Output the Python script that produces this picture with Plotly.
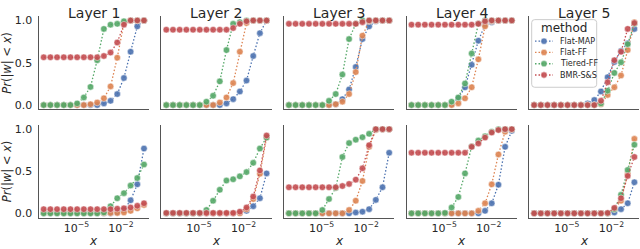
import plotly.graph_objects as go

# ---------------- data ----------------
LAYERS = ["Layer 1", "Layer 2", "Layer 3", "Layer 4", "Layer 5"]
METHODS = ["Flat-MAP", "Flat-FF", "Tiered-FF", "BMR-S&S"]
COLORS = ["#4C72B0", "#DD8452", "#55A868", "#C44E52"]

# log10 of the thresholds x
X_EXP = [-7.2, -6.75, -6.3, -5.85, -5.4, -4.95, -4.5, -4.05,
         -3.6, -3.15, -2.7, -2.25, -1.8, -1.35, -0.9, -0.45]

X_TICKS = [1e-5, 1e-2]
X_TICK_TEXT = ["10<sup>\u22125</sup>", "10<sup>\u22122</sup>"]
Y_TICKS = [0.0, 0.5, 1.0]
Y_TICK_TEXT = ["0.0", "0.5", "1.0"]

# top row: Pr(|w| < x) per layer
FLAT_MAP_TOP = [
    [0, 0, 0, 0, 0, 0, 0, 0, 0, 0.02, 0.05, 0.13, 0.32, 0.63, 0.93, 1.0],
    [0, 0, 0, 0, 0, 0, 0, 0, 0, 0.02, 0.07, 0.16, 0.29, 0.58, 0.85, 1.0],
    [0, 0, 0, 0, 0, 0, 0, 0.01, 0.07, 0.185, 0.45, 0.78, 0.93, 0.99, 1.0, 1.0],
    [0, 0, 0, 0, 0, 0, 0.01, 0.08, 0.21, 0.475, 0.76, 0.95, 0.98, 1.0, 1.0, 1.0],
    [0, 0, 0, 0, 0, 0, 0, 0, 0.02, 0.06, 0.16, 0.33, 0.51, 0.64, 0.73, 0.90],
]
FLAT_FF_TOP = [
    [0, 0, 0, 0, 0, 0, 0, 0.01, 0.03, 0.08, 0.22, 0.56, 0.97, 1.0, 1.0, 1.0],
    [0, 0, 0, 0, 0, 0, 0, 0, 0.03, 0.09, 0.26, 0.63, 0.97, 1.0, 1.0, 1.0],
    [0, 0, 0, 0, 0, 0, 0, 0.01, 0.04, 0.13, 0.39, 0.82, 0.99, 1.0, 1.0, 1.0],
    [0, 0, 0, 0, 0, 0, 0, 0.02, 0.08, 0.21, 0.54, 0.93, 0.99, 1.0, 1.0, 1.0],
    [0, 0, 0, 0, 0, 0, 0, 0, 0, 0, 0.01, 0.12, 0.21, 0.35, 0.65, 0.98],
]
TIERED_FF_TOP = [
    [0, 0, 0, 0, 0, 0.02, 0.09, 0.215, 0.53, 0.90, 0.95, 0.96, 0.99, 1.0, 1.0, 1.0],
    [0, 0, 0, 0, 0, 0, 0.04, 0.11, 0.28, 0.65, 0.96, 0.98, 1.0, 1.0, 1.0, 1.0],
    [0, 0, 0, 0, 0, 0, 0.05, 0.13, 0.36, 0.78, 0.96, 1.0, 1.0, 1.0, 1.0, 1.0],
    [0, 0, 0, 0, 0, 0, 0.04, 0.09, 0.255, 0.61, 0.96, 1.0, 1.0, 1.0, 1.0, 1.0],
    [0, 0, 0, 0, 0, 0, 0, 0, 0, 0, 0.02, 0.17, 0.38, 0.505, 0.72, 0.96],
]
BMR_TOP = [
    [0.565, 0.565, 0.565, 0.565, 0.565, 0.565, 0.565, 0.565, 0.565, 0.58, 0.62, 0.74, 0.95, 1.0, 1.0, 1.0],
    [0.89, 0.89, 0.89, 0.89, 0.89, 0.89, 0.89, 0.89, 0.89, 0.89, 0.91, 0.96, 0.99, 1.0, 1.0, 1.0],
    [0.96, 0.96, 0.96, 0.96, 0.96, 0.96, 0.96, 0.96, 0.96, 0.96, 0.96, 0.98, 1.0, 1.0, 1.0, 1.0],
    [0.95, 0.95, 0.95, 0.95, 0.95, 0.95, 0.95, 0.95, 0.95, 0.95, 0.96, 0.99, 1.0, 1.0, 1.0, 1.0],
    [0, 0, 0, 0, 0, 0, 0, 0, 0, 0, 0.05, 0.27, 0.53, 0.63, 0.90, 0.97],
]

# bottom row
FLAT_MAP_BOT = [
    [0, 0, 0, 0, 0, 0, 0, 0, 0, 0, 0, 0.01, 0.04, 0.155, 0.345, 0.77],
    [0, 0, 0, 0, 0, 0, 0, 0, 0, 0, 0, 0.01, 0.03, 0.085, 0.18, 0.475],
    [0, 0, 0, 0, 0, 0, 0, 0, 0, 0, 0.01, 0.02, 0.05, 0.16, 0.31, 0.72],
    [0, 0, 0, 0, 0, 0, 0, 0, 0, 0, 0, 0.03, 0.12, 0.34, 0.79, 0.98],
    [0, 0, 0, 0, 0, 0, 0, 0, 0, 0, 0, 0, 0.01, 0.05, 0.12, 0.37],
]
FLAT_FF_BOT = [
    [0.005, 0.005, 0.005, 0.005, 0.005, 0.005, 0.005, 0.005, 0.005, 0.005, 0.005, 0.005, 0.01, 0.03, 0.06, 0.10],
    [0, 0, 0, 0, 0, 0, 0, 0, 0, 0, 0, 0, 0.05, 0.17, 0.47, 0.90],
    [0, 0, 0, 0, 0, 0, 0, 0, 0, 0.04, 0.15, 0.385, 0.79, 0.99, 1.0, 1.0],
    [0, 0, 0, 0, 0, 0, 0, 0, 0, 0, 0.03, 0.12, 0.345, 0.70, 0.97, 1.0],
    [0, 0, 0, 0, 0, 0, 0, 0, 0, 0, 0, 0, 0.05, 0.15, 0.47, 0.885],
]
TIERED_FF_BOT = [
    [0, 0, 0, 0, 0, 0, 0, 0, 0, 0.01, 0.085, 0.18, 0.24, 0.33, 0.42, 0.58],
    [0, 0, 0, 0, 0, 0, 0.04, 0.15, 0.28, 0.39, 0.405, 0.44, 0.49, 0.60, 0.77, 0.90],
    [0, 0, 0, 0, 0, 0.04, 0.17, 0.30, 0.67, 0.835, 0.875, 0.905, 0.945, 1.0, 1.0, 1.0],
    [0, 0, 0, 0, 0, 0.005, 0.07, 0.195, 0.475, 0.795, 0.865, 0.915, 0.97, 1.0, 1.0, 1.0],
    [0, 0, 0, 0, 0, 0, 0, 0, 0, 0, 0, 0, 0.05, 0.22, 0.515, 0.815],
]
BMR_BOT = [
    [0.05, 0.05, 0.05, 0.05, 0.05, 0.05, 0.05, 0.05, 0.05, 0.05, 0.05, 0.055, 0.06, 0.07, 0.09, 0.12],
    [0.005, 0.005, 0.005, 0.005, 0.005, 0.005, 0.005, 0.005, 0.005, 0.005, 0.005, 0.02, 0.07, 0.20, 0.51, 0.925],
    [0.31, 0.31, 0.31, 0.31, 0.31, 0.31, 0.31, 0.31, 0.325, 0.35, 0.40, 0.535, 0.81, 1.0, 1.0, 1.0],
    [0.72, 0.72, 0.72, 0.72, 0.72, 0.72, 0.72, 0.72, 0.72, 0.79, 0.83, 0.90, 0.96, 0.99, 1.0, 1.0],
    [0, 0, 0, 0, 0, 0, 0, 0, 0, 0, 0, 0.005, 0.065, 0.18, 0.445, 0.67],
]

ROWS = [
    [FLAT_MAP_TOP, FLAT_FF_TOP, TIERED_FF_TOP, BMR_TOP],
    [FLAT_MAP_BOT, FLAT_FF_BOT, TIERED_FF_BOT, BMR_BOT],
]

# ---------------- layout geometry (pixels) ----------------
W, H = 640, 249
PANEL_LEFT, PANEL_PITCH, PANEL_W = 38.7, 122.6, 110.3
ROW_TOP = [14.5, 125.5]
ROW_BOT = [109.5, 220.0]
FONT = "DejaVu Sans"
TXT = "#262626"
AXCOL = "#555555"
DOT = "1.5px,2px"


def fx(p):
    return p / W


def fy(p):
    return 1 - p / H


x_vals = [10 ** e for e in X_EXP]
xr = [X_EXP[0] - 0.05 * (X_EXP[-1] - X_EXP[0]), X_EXP[-1] + 0.05 * (X_EXP[-1] - X_EXP[0])]

fig = go.Figure()
layout = dict(
    width=W, height=H, margin=dict(l=0, r=0, t=0, b=0),
    paper_bgcolor="white", plot_bgcolor="white", showlegend=False,
    font=dict(family=FONT, color=TXT, size=11),
)
annotations = []
shapes = []

for r in range(2):
    for c in range(5):
        k = r * 5 + c + 1
        xa = "x" if k == 1 else f"x{k}"
        ya = "y" if k == 1 else f"y{k}"
        x0 = PANEL_LEFT + c * PANEL_PITCH
        layout["xaxis" if k == 1 else f"xaxis{k}"] = dict(
            type="log", domain=[fx(x0), fx(x0 + PANEL_W)], range=xr,
            anchor=ya, showline=True, linecolor=AXCOL, linewidth=1.3,
            showgrid=False, zeroline=False, ticks="",
            tickvals=X_TICKS, ticktext=X_TICK_TEXT,
            showticklabels=(r == 1), tickfont=dict(size=11, color=TXT),
        )
        layout["yaxis" if k == 1 else f"yaxis{k}"] = dict(
            domain=[fy(ROW_BOT[r]), fy(ROW_TOP[r])], range=[-0.05, 1.05],
            anchor=xa, showline=True, linecolor=AXCOL, linewidth=1.3,
            showgrid=False, zeroline=False, ticks="",
            tickvals=Y_TICKS, ticktext=Y_TICK_TEXT,
            showticklabels=(c == 0), tickfont=dict(size=11, color=TXT),
            ticklabelstandoff=3,
        )
        for m in range(4):
            fig.add_trace(go.Scatter(
                x=x_vals, y=ROWS[r][m][c], xaxis=xa, yaxis=ya,
                mode="lines+markers", name=METHODS[m],
                line=dict(color=COLORS[m], width=1.3, dash=DOT),
                marker=dict(color=COLORS[m], size=6.5, opacity=0.9,
                            line=dict(color="white", width=0.5)),
            ))
        if r == 0:
            annotations.append(dict(
                text=LAYERS[c], x=fx(x0 + PANEL_W / 2), y=fy(11.5),
                xref="paper", yref="paper", showarrow=False,
                xanchor="center", yanchor="middle",
                font=dict(size=14, color=TXT, family=FONT)))
        else:
            annotations.append(dict(
                text="<i>x</i>", x=fx(x0 + PANEL_W / 2), y=fy(244),
                xref="paper", yref="paper", showarrow=False,
                xanchor="center", yanchor="middle",
                font=dict(size=12, color=TXT, family=FONT)))
    annotations.append(dict(
        text="<i>Pr</i>(|<i>w</i>| &lt; <i>x</i>)", x=fx(7),
        y=fy((ROW_TOP[r] + ROW_BOT[r]) / 2), xref="paper", yref="paper",
        showarrow=False, textangle=-90, xanchor="center", yanchor="middle",
        font=dict(size=11.5, color=TXT, family=FONT)))

# ---------------- legend (drawn in panel 5, top row) ----------------
LX0, LX1, LY0, LY1 = 531.7, 596.7, 18.0, 87.0
rad = 3
path = (f"M {fx(LX0 + rad)} {fy(LY0)} L {fx(LX1 - rad)} {fy(LY0)} "
        f"Q {fx(LX1)} {fy(LY0)} {fx(LX1)} {fy(LY0 + rad)} "
        f"L {fx(LX1)} {fy(LY1 - rad)} Q {fx(LX1)} {fy(LY1)} {fx(LX1 - rad)} {fy(LY1)} "
        f"L {fx(LX0 + rad)} {fy(LY1)} Q {fx(LX0)} {fy(LY1)} {fx(LX0)} {fy(LY1 - rad)} "
        f"L {fx(LX0)} {fy(LY0 + rad)} Q {fx(LX0)} {fy(LY0)} {fx(LX0 + rad)} {fy(LY0)} Z")
shapes.append(dict(type="path", path=path, xref="paper", yref="paper",
                   fillcolor="rgba(255,255,255,0.85)", line=dict(color="#cccccc", width=1),
                   layer="above"))
annotations.append(dict(text="method", x=fx((LX0 + LX1) / 2), y=fy(26.5),
                        xref="paper", yref="paper", showarrow=False,
                        xanchor="center", yanchor="middle",
                        font=dict(size=12, color=TXT, family=FONT)))
for m in range(4):
    yy = 40 + 11.5 * m
    shapes.append(dict(type="line", xref="paper", yref="paper",
                       x0=fx(535), x1=fx(553), y0=fy(yy), y1=fy(yy),
                       line=dict(color=COLORS[m], width=1.3, dash=DOT), layer="above"))
    shapes.append(dict(type="circle", xref="paper", yref="paper",
                       x0=fx(544 - 3.2), x1=fx(544 + 3.2), y0=fy(yy - 3.2), y1=fy(yy + 3.2),
                       fillcolor=COLORS[m], opacity=0.9,
                       line=dict(color="white", width=0.5), layer="above"))
    annotations.append(dict(text=METHODS[m], x=fx(557.5), y=fy(yy),
                            xref="paper", yref="paper", showarrow=False,
                            xanchor="left", yanchor="middle",
                            font=dict(size=8, color=TXT, family=FONT)))

layout["annotations"] = annotations
layout["shapes"] = shapes
fig.update_layout(**layout)

fig.write_html("out.html", config={"displayModeBar": False},
               post_script="document.body.style.margin='0';")
